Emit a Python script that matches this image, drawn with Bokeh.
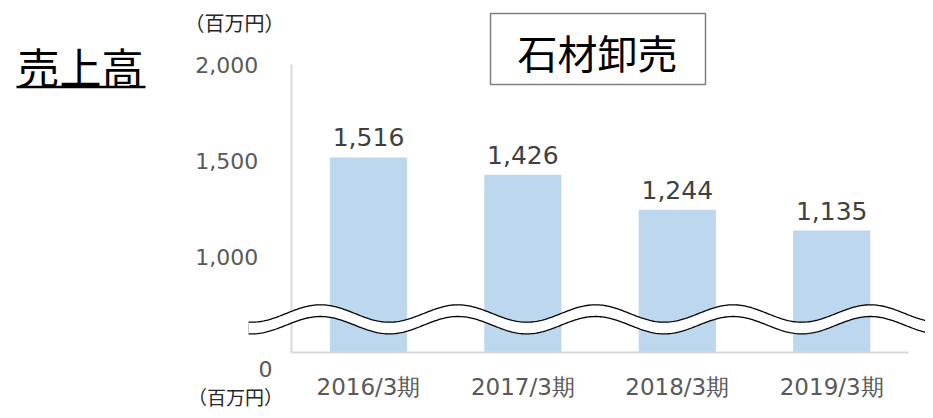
import numpy as np
from bokeh.plotting import figure
from bokeh.models import Range1d, FixedTicker, ColumnDataSource
from bokeh.core.properties import value
from bokeh.embed import file_html
from bokeh.resources import INLINE

# ---- data ----
periods = ["2016/3期", "2017/3期", "2018/3期", "2019/3期"]
sales = [1516, 1426, 1244, 1135]
y_ticks = [1000, 1500, 2000]
y_tick_labels = ["1,000", "1,500", "2,000"]
axis_floor = 500          # value drawn at the broken axis baseline (labelled "0")
title_text = "売上高"
segment_text = "石材卸売"
unit_text = "（百万円）"

# ---- geometry helpers (page pixels -> data) ----
W, H = 925, 410
X0_PX, X_STEP = 368.0, 154.4          # page x of first category centre, px per category
Y_BASE_PX, Y_PER_PX = 352.0, 1500.0 / 288.0

def px_x(px):
    return (px - X0_PX) / X_STEP

def px_y(py):
    return axis_floor + (Y_BASE_PX - py) * Y_PER_PX

p = figure(width=W, height=H, frame_width=W, frame_height=H,
           x_range=Range1d(px_x(0), px_x(W)), y_range=Range1d(px_y(H), px_y(0)),
           output_backend="svg", toolbar_location=None, min_border=0)
p.outline_line_color = None
p.grid.visible = False
p.background_fill_color = "white"
p.border_fill_color = "white"

num_font = "DejaVu Sans"
grey = "#595959"

# x axis
xs = list(range(len(periods)))
p.xaxis.fixed_location = axis_floor
p.xaxis.ticker = FixedTicker(ticks=xs)
p.xaxis.major_label_overrides = {i: lab for i, lab in zip(xs, periods)}
p.xaxis.bounds = (-0.5, len(periods) - 0.5)
p.xaxis.axis_line_color = "#D9D9D9"
p.xaxis.axis_line_width = 2
p.xaxis.major_tick_line_color = None
p.xaxis.minor_tick_line_color = None
p.xaxis.major_label_standoff = 15
p.xaxis.major_label_text_font = num_font
p.xaxis.major_label_text_font_size = "23px"
p.xaxis.major_label_text_color = grey

# y axis
p.yaxis.fixed_location = -0.5
p.yaxis.bounds = (axis_floor, 2000)
p.yaxis.ticker = FixedTicker(ticks=y_ticks)
p.yaxis.major_label_overrides = {t: l for t, l in zip(y_ticks, y_tick_labels)}
p.yaxis.axis_line_color = "#D9D9D9"
p.yaxis.axis_line_width = 2
p.yaxis.major_tick_line_color = None
p.yaxis.minor_tick_line_color = None
p.yaxis.major_label_standoff = 27
p.yaxis.major_label_text_font = num_font
p.yaxis.major_label_text_font_size = "22px"
p.yaxis.major_label_text_color = grey

# bars
src = ColumnDataSource(dict(x=xs, top=sales, label=[f"{v:,}" for v in sales]))
p.vbar(x="x", top="top", bottom=axis_floor, width=0.5, source=src,
       fill_color="#BDD7EE", line_color=None)
p.text(x="x", y="top", text="label", source=src, text_align="center",
       text_baseline="alphabetic", y_offset=-20, text_font=value(num_font),
       text_font_size="25px", text_color="#404040")

# axis break wave
wx = np.linspace(248, 940, 400)
upper = 313 - 8.7 * np.cos(2 * np.pi * (wx - 320) / 137.5)
lower = upper + 11.7
patch_x = np.concatenate([px_x(wx), px_x(wx[::-1])])
patch_y = np.concatenate([px_y(upper), px_y(lower[::-1])])
r = p.patch(patch_x, patch_y, fill_color="white", line_color=None)
r.level = "overlay"
r = p.line(px_x(wx), px_y(upper), line_color="black", line_width=1.3)
r.level = "overlay"
r = p.line(px_x(wx), px_y(lower), line_color="black", line_width=1.3)
r.level = "overlay"
r = p.line([px_x(248), px_x(248)], [px_y(321.6), px_y(333.3)], line_color="#BBBBBB", line_width=0.8)
r.level = "overlay"

# "0" label at broken baseline
p.text(x=[px_x(272)], y=[px_y(368)], text=["0"], text_align="right", text_baseline="middle",
       text_font=value(num_font), text_font_size="22px", text_color=grey)

# unit labels
p.text(x=[px_x(234)], y=[px_y(22)], text=[unit_text], text_align="center", text_baseline="middle",
       text_font=value("Noto Sans CJK JP"), text_font_size="20px", text_color="#262626")
p.text(x=[px_x(235)], y=[px_y(396)], text=[unit_text], text_align="center", text_baseline="middle",
       text_font=value("Noto Sans CJK JP"), text_font_size="19px", text_color="#262626")

# title with underline
p.text(x=[px_x(80)], y=[px_y(65)], text=[title_text], text_align="center", text_baseline="middle",
       text_font=value("Noto Sans CJK JP"), text_font_size="42px", text_color="black")
p.line([px_x(16), px_x(145)], [px_y(86.5), px_y(86.5)], line_color="black", line_width=2.5)

# segment box
p.rect(x=[px_x(597.5)], y=[px_y(48.5)], width=215, height=71, width_units="screen",
       height_units="screen", fill_color="white", line_color="#7F7F7F", line_width=1.5)
p.text(x=[px_x(597)], y=[px_y(51)], text=[segment_text], text_align="center", text_baseline="middle",
       text_font=value("Noto Sans CJK JP"), text_font_size="40px", text_color="black")

open("out.html", "w").write(file_html(p, INLINE))
